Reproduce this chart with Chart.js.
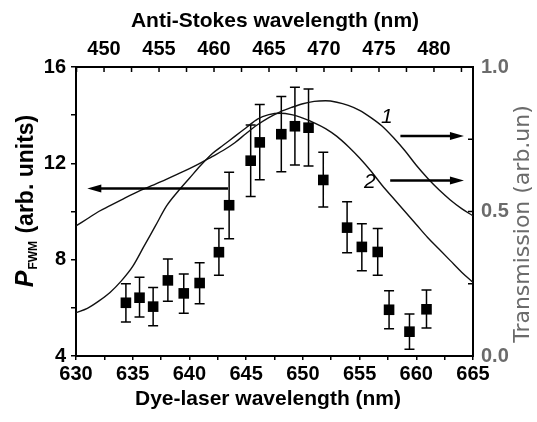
<!DOCTYPE html>
<html>
<head>
<meta charset="utf-8">
<script src="https://cdn.jsdelivr.net/npm/chart.js@4"></script>
<style>
body { margin: 0; background: #fff; }
</style>
</head>
<body>
<canvas id="chart" width="537" height="422"></canvas>
<script>
// FWM power points (dye-laser wavelength, nm)
var dyeWl = [634.4, 635.6, 636.8, 638.1, 639.5, 640.9, 642.6, 643.5, 645.4, 646.2,
             648.1, 649.3, 650.5, 651.8, 653.9, 655.2, 656.6, 657.6, 659.4, 660.9];
var power = [6.21, 6.42, 6.05, 7.14, 6.6, 7.03, 8.31, 10.26, 12.11, 12.87,
             13.21, 13.54, 13.48, 11.31, 9.33, 8.53, 8.32, 5.92, 5.01, 5.94];
var errHigh = [7.0, 7.27, 6.84, 8.03, 7.41, 7.87, 9.29, 11.63, 13.59, 14.44,
               14.77, 15.16, 15.09, 12.46, 10.41, 9.49, 9.29, 6.71, 5.74, 6.74];
var errLow = [5.41, 5.62, 5.26, 6.27, 5.77, 6.17, 7.35, 8.87, 10.62, 11.32,
              11.65, 11.93, 11.89, 10.19, 8.29, 7.54, 7.35, 5.13, 4.28, 5.16];

// transmission curves 1 and 2
var curveWl = [630, 631, 632, 633, 634, 635, 636, 637, 638, 639, 640, 641,
               642, 643, 644, 645, 646, 647, 648, 649, 650, 651, 652, 653,
               654, 655, 656, 657, 658, 659, 660, 661, 662, 663, 664, 665];
var trans1 = [0.45, 0.475, 0.50, 0.52, 0.54, 0.56, 0.578, 0.595, 0.612, 0.63, 0.648, 0.668,
              0.69, 0.712, 0.738, 0.77, 0.80, 0.825, 0.845, 0.86, 0.873, 0.881, 0.883, 0.878,
              0.867, 0.85, 0.825, 0.795, 0.755, 0.71, 0.66, 0.615, 0.575, 0.54, 0.51, 0.485];
var trans2 = [0.15, 0.165, 0.19, 0.22, 0.26, 0.31, 0.38, 0.45, 0.52, 0.57, 0.615, 0.66,
              0.70, 0.73, 0.76, 0.79, 0.82, 0.835, 0.84, 0.835, 0.823, 0.807, 0.787, 0.76,
              0.725, 0.685, 0.64, 0.59, 0.545, 0.50, 0.455, 0.41, 0.37, 0.33, 0.29, 0.255];

var bottomRange = [630, 665];
var topRange = [447.45, 483.55];   // anti-Stokes wavelength, nm
var powerRange = [4, 16];
var transRange = [0, 1];

function pts(xs, ys) {
    return xs.map(function (x, i) { return { x: x, y: ys[i] }; });
}

var FONT = 'Liberation Sans, Arial, sans-serif';

var extras = {
    id: 'extras',
    beforeDatasetsDraw: function (chart) {
        var ctx = chart.ctx, xs = chart.scales.x, ys = chart.scales.y;
        ctx.save();
        ctx.strokeStyle = '#000';
        ctx.lineWidth = 1.5;
        ctx.beginPath();
        for (var i = 0; i < dyeWl.length; i++) {
            var px = xs.getPixelForValue(dyeWl[i]);
            var t = ys.getPixelForValue(errHigh[i]);
            var b = ys.getPixelForValue(errLow[i]);
            ctx.moveTo(px, t); ctx.lineTo(px, b);
            ctx.moveTo(px - 5, t); ctx.lineTo(px + 5, t);
            ctx.moveTo(px - 5, b); ctx.lineTo(px + 5, b);
        }
        ctx.stroke();
        ctx.restore();
    },
    afterDraw: function (chart) {
        var ctx = chart.ctx, a = chart.chartArea;
        var xs = chart.scales.x, ys = chart.scales.y, y2 = chart.scales.y2, x2 = chart.scales.x2;
        ctx.save();
        ctx.strokeStyle = '#000';
        ctx.fillStyle = '#000';

        // inward ticks on top and right
        ctx.lineWidth = 1.5;
        ctx.beginPath();
        x2.ticks.forEach(function (t) {
            var px = x2.getPixelForValue(t.value);
            ctx.moveTo(px, a.top); ctx.lineTo(px, a.top + 5);
        });
        y2.ticks.forEach(function (t) {
            var py = y2.getPixelForValue(t.value);
            ctx.moveTo(a.right, py); ctx.lineTo(a.right - 5, py);
        });
        ctx.stroke();

        // arrows
        function arrow(xFrom, xTo, py) {
            var p1 = xs.getPixelForValue(xFrom), p2 = xs.getPixelForValue(xTo);
            var dir = p2 > p1 ? 1 : -1;
            ctx.lineWidth = 2.5;
            ctx.beginPath();
            ctx.moveTo(p1, py); ctx.lineTo(p2 - dir * 10, py);
            ctx.stroke();
            ctx.beginPath();
            ctx.moveTo(p2, py);
            ctx.lineTo(p2 - dir * 14, py - 4);
            ctx.lineTo(p2 - dir * 14, py + 4);
            ctx.closePath();
            ctx.fill();
        }
        arrow(643.4, 631.0, ys.getPixelForValue(10.95));
        arrow(658.6, 664.2, y2.getPixelForValue(0.761));
        arrow(657.7, 664.2, y2.getPixelForValue(0.607));

        // curve labels
        ctx.font = 'italic 21px ' + FONT;
        ctx.textAlign = 'center';
        ctx.textBaseline = 'middle';
        ctx.fillText('1', xs.getPixelForValue(657.4), y2.getPixelForValue(0.828));
        ctx.fillText('2', xs.getPixelForValue(655.9), y2.getPixelForValue(0.603));

        // axis titles
        ctx.font = 'bold 21px ' + FONT;
        ctx.textBaseline = 'alphabetic';
        ctx.fillText('Anti-Stokes wavelength (nm)', 275, 27);
        ctx.fillText('Dye-laser wavelength (nm)', 268, 405);

        // left title with subscript
        ctx.save();
        ctx.translate(33, 201);
        ctx.rotate(-Math.PI / 2);
        ctx.textAlign = 'left';
        var f1 = 'italic bold 25px ' + FONT, f2 = 'bold 12px ' + FONT, f3 = 'bold 23px ' + FONT;
        ctx.font = f1; var w1 = ctx.measureText('P').width;
        ctx.font = f2; var w2 = ctx.measureText('FWM').width;
        ctx.font = f3; var w3 = ctx.measureText(' (arb. units)').width;
        var x0 = -(w1 + w2 + 2 + w3) / 2;
        ctx.font = f1; ctx.fillText('P', x0, 0);
        ctx.font = f2; ctx.fillText('FWM', x0 + w1 + 1, 4);
        ctx.font = f3; ctx.fillText(' (arb. units)', x0 + w1 + w2 + 2, 0);
        ctx.restore();

        // right title
        ctx.save();
        ctx.translate(529, 224);
        ctx.rotate(-Math.PI / 2);
        ctx.fillStyle = '#6b6b6b';
        ctx.font = '22px DejaVu Sans, sans-serif';
        ctx.textAlign = 'center';
        ctx.fillText('Transmission (arb.un)', 0, 0);
        ctx.restore();

        ctx.restore();
    }
};

var tickFont = { family: FONT, size: 20, weight: 'bold' };

new Chart(document.getElementById('chart'), {
    type: 'scatter',
    data: {
        datasets: [{
            label: 'P_FWM',
            data: pts(dyeWl, power),
            xAxisID: 'x',
            yAxisID: 'y',
            pointStyle: 'rect',
            pointRadius: 7.5,
            backgroundColor: '#000',
            borderWidth: 0
        }, {
            label: 'curve 1',
            data: pts(curveWl, trans1),
            xAxisID: 'x',
            yAxisID: 'y2',
            showLine: true,
            pointRadius: 0,
            borderColor: '#111',
            borderWidth: 1.4,
            cubicInterpolationMode: 'monotone'
        }, {
            label: 'curve 2',
            data: pts(curveWl, trans2),
            xAxisID: 'x',
            yAxisID: 'y2',
            showLine: true,
            pointRadius: 0,
            borderColor: '#111',
            borderWidth: 1.4,
            cubicInterpolationMode: 'monotone'
        }]
    },
    options: {
        responsive: false,
        animation: false,
        events: [],
        layout: { padding: 0 },
        plugins: {
            legend: { display: false },
            tooltip: { enabled: false }
        },
        scales: {
            x: {
                type: 'linear',
                position: 'bottom',
                min: bottomRange[0],
                max: bottomRange[1],
                afterFit: function (s) { s.height = 66; },
                border: { display: true, color: '#000', width: 2 },
                grid: { drawOnChartArea: false, drawTicks: true, tickLength: 4, color: '#000', lineWidth: 1.5 },
                ticks: {
                    stepSize: 2.5,
                    padding: 2,
                    color: '#000',
                    font: tickFont,
                    maxRotation: 0,
                    autoSkip: false,
                    callback: function (v) { return v % 5 === 0 ? v : ''; }
                }
            },
            x2: {
                type: 'linear',
                position: 'top',
                min: topRange[0],
                max: topRange[1],
                afterFit: function (s) { s.height = 67; },
                border: { display: true, color: '#000', width: 2 },
                grid: { drawOnChartArea: false, drawTicks: false },
                ticks: {
                    stepSize: 2.5,
                    includeBounds: false,
                    padding: 6,
                    color: '#000',
                    font: tickFont,
                    maxRotation: 0,
                    autoSkip: false,
                    callback: function (v) { return v % 5 === 0 ? v : ''; }
                }
            },
            y: {
                type: 'linear',
                position: 'left',
                min: powerRange[0],
                max: powerRange[1],
                afterFit: function (s) { s.width = 76; },
                border: { display: true, color: '#000', width: 2 },
                grid: { drawOnChartArea: false, drawTicks: true, tickLength: 5, color: '#000', lineWidth: 1.5 },
                ticks: {
                    stepSize: 2,
                    padding: 5,
                    color: '#000',
                    font: tickFont,
                    autoSkip: false,
                    callback: function (v) { return v % 4 === 0 ? v : ''; }
                }
            },
            y2: {
                type: 'linear',
                position: 'right',
                min: transRange[0],
                max: transRange[1],
                afterFit: function (s) { s.width = 64; },
                border: { display: true, color: '#000', width: 2 },
                grid: { drawOnChartArea: false, drawTicks: false },
                ticks: {
                    stepSize: 0.25,
                    padding: 8,
                    color: '#6b6b6b',
                    font: tickFont,
                    autoSkip: false,
                    callback: function (v) { return Math.abs(v * 2 - Math.round(v * 2)) < 1e-9 ? v.toFixed(1) : ''; }
                }
            }
        }
    },
    plugins: [extras]
});
</script>
</body>
</html>
